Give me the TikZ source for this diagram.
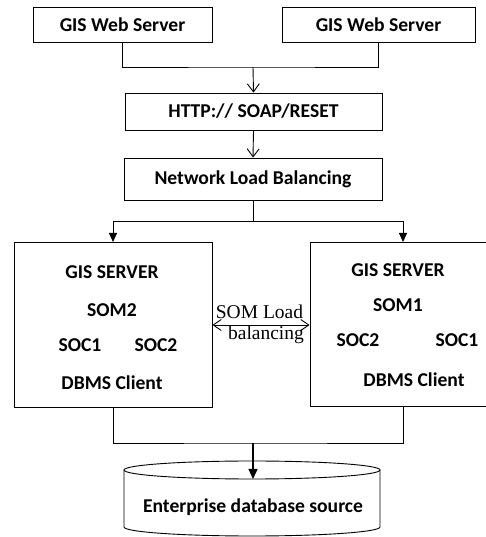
\documentclass[tikz,border=0pt]{standalone}
\usepackage{fontspec}
\setmainfont{Carlito}
\newfontfamily\serifbody{Liberation Serif}
\usetikzlibrary{arrows.meta}
\begin{document}
\begin{tikzpicture}[x=1pt,y=1pt,
  box/.style={draw, line width=0.9pt, inner sep=0pt},
  lbl/.style={font=\fontsize{19.6}{21}\selectfont\bfseries, inner sep=0pt},
  conn/.style={line width=0.9pt},
  vtip/.style={-{Straight Barb[length=8pt,width=12pt,line width=0.9pt]}},
  ftip/.style={-{Triangle[length=9pt,width=8pt]}}]
\useasboundingbox (0,0) rectangle (486,537);
% top web servers
\node[box, minimum width=179pt, minimum height=35pt] (ws1) at (122.5,512.5) {};
\node[lbl] (ws1t) at (ws1.center) {GIS Web Server};
\node[box, minimum width=193pt, minimum height=35pt] (ws2) at (378.5,512.5) {};
\node[lbl] (ws2t) at (ws2.center) {GIS Web Server};
\node[box, minimum width=257pt, minimum height=37pt] (http) at (253.5,425.5) {};
\node[lbl] (httpt) at (http.center) {HTTP:// SOAP/RESET};
\node[box, minimum width=258pt, minimum height=42pt] (nlb) at (253,358) {};
\node[lbl] (nlbt) at (nlb.center) {Network Load Balancing};
% GIS servers
\node[box, minimum width=198pt, minimum height=165pt] (gs1) at (113,212.5) {};
\node[lbl] (g1a) at (112,265) {GIS SERVER};
\node[lbl] (g1b) at (112,227) {SOM2};
\node[lbl] (g1c) at (80,192) {SOC1};
\node[lbl] (g1d) at (156,192) {SOC2};
\node[lbl] (g1e) at (112,154) {DBMS Client};
\node[box, minimum width=184pt, minimum height=164pt] (gs2) at (402,213) {};
\node[lbl] (g2a) at (398,267) {GIS SERVER};
\node[lbl] (g2b) at (398,232) {SOM1};
\node[lbl] (g2c) at (358,197) {SOC2};
\node[lbl] (g2d) at (457,197) {SOC1};
\node[lbl] (g2e) at (414,157) {DBMS Client};
% SOM load balancing label
\node[font=\serifbody\fontsize{19.5}{20}\selectfont, inner sep=0pt] (soml) at (259.5,225) {SOM Load};
\node[font=\serifbody\fontsize{19.5}{20}\selectfont, inner sep=0pt] (somb) at (266,202) {balancing};
% database cylinder
\draw[line width=0.9pt] (124,67) arc[start angle=180,end angle=-180,x radius=128,y radius=9];
\draw[line width=0.9pt] (124,67) -- (124,10) arc[start angle=180,end angle=360,x radius=128,y radius=9] -- (380,67);
\node[lbl] (db) at (253,30) {Enterprise database source};
% connectors
\coordinate (j1) at (253,470);
\draw[conn] (ws1.south) |- (j1) -| (ws2.south);
\draw[conn, vtip] (j1) -- (http.north);
\draw[conn, vtip] (http.south) -- (nlb.north);
\coordinate (j2) at (253,316);
\coordinate (g1in) at (113,295);
\coordinate (g2in) at (403,295);
\draw[conn] (nlb.south) -- (j2);
\draw[conn, ftip] (j2) -| (g1in);
\draw[conn, ftip] (j2) -| (g2in);
\draw[conn, {Straight Barb[length=8pt,width=11pt,line width=0.9pt]}-{Straight Barb[length=8pt,width=11pt,line width=0.9pt]}] (gs1.east |- 0,212) -- (gs2.west |- 0,212);
\coordinate (j3) at (253,94);
\coordinate (g1out) at (113,130);
\coordinate (g2out) at (403,131);
\coordinate (dbtop) at (253,58);
\draw[conn] (g1out) |- (j3) -| (g2out);
\draw[line width=1.3pt, -{Triangle[length=10pt,width=9pt]}] (j3) -- (dbtop);
\end{tikzpicture}
\end{document}
